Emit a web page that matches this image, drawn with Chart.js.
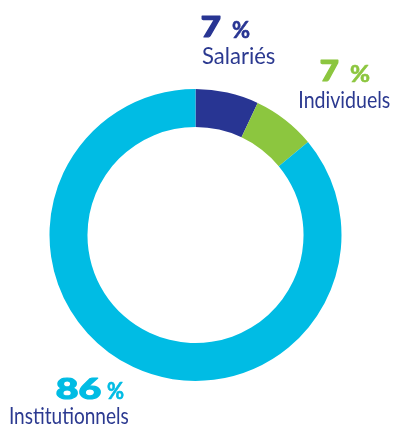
<!DOCTYPE html>
<html>
<head>
<meta charset="utf-8">
<script src="https://cdn.jsdelivr.net/npm/chart.js@4/dist/chart.umd.min.js"></script>
<style>
  html, body { margin: 0; padding: 0; background: #fff; }
  #wrap { width: 398px; height: 426px; }
</style>
</head>
<body>
<div id="wrap"><canvas id="donut" width="398" height="426"></canvas></div>
<script>
// répartition de l'actionnariat
var categories = ["Salariés", "Individuels", "Institutionnels"];
var values = [7, 7, 86];
var colors = ["#283593", "#8cc63f", "#00bce4"];
var nameColor = "#2b3990";

// emplacement des étiquettes (bords gauche/droite du texte et ligne de base)
var labelBoxes = [
    { num: [202, 220, 37], pct: [232, 250, 37.5], name: [202, 275, 63.5] },
    { num: [321, 338, 81], pct: [350, 370, 81.5], name: [300, 390, 107.5] },
    { num: [57, 100, 399], pct: [107, 124, 399], name: [10.5, 128.5, 423.5] }
];

function fitText(ctx, text, x0, x1, baseline, font, color, stroke) {
    ctx.font = font;
    var m = ctx.measureText(text);
    var w = m.actualBoundingBoxLeft + m.actualBoundingBoxRight;
    var s = (x1 - x0) / w;
    ctx.save();
    ctx.fillStyle = color;
    ctx.strokeStyle = color;
    ctx.textAlign = "left";
    ctx.textBaseline = "alphabetic";
    ctx.translate(x0, baseline);
    ctx.scale(s, 1);
    ctx.fillText(text, m.actualBoundingBoxLeft, 0);
    if (stroke) {
        // épaissit les chiffres
        ctx.lineWidth = stroke;
        ctx.lineJoin = "round";
        ctx.strokeText(text, m.actualBoundingBoxLeft, 0);
    }
    ctx.restore();
}

var labelsPlugin = {
    id: "labels",
    afterDraw: function (chart) {
        var ctx = chart.ctx;
        var ds = chart.data.datasets[0];
        chart.data.labels.forEach(function (name, i) {
            var b = labelBoxes[i];
            var c = ds.backgroundColor[i];
            fitText(ctx, String(ds.data[i]), b.num[0], b.num[1], b.num[2], "900 29px Lato", c, 1.2);
            fitText(ctx, "%", b.pct[0], b.pct[1], b.pct[2], "bold 22px Lato", c, 0.6);
            fitText(ctx, name, b.name[0], b.name[1], b.name[2], "24px Lato", nameColor);
        });
    }
};

new Chart(document.getElementById("donut"), {
    type: "doughnut",
    data: {
        labels: categories,
        datasets: [{
            data: values,
            backgroundColor: colors,
            borderWidth: 0
        }]
    },
    options: {
        responsive: false,
        animation: false,
        cutout: "74%",
        layout: { padding: { left: 49.5, right: 56.5, top: 89, bottom: 45 } },
        plugins: {
            legend: { display: false },
            tooltip: { enabled: false }
        }
    },
    plugins: [labelsPlugin]
});
</script>
</body>
</html>
